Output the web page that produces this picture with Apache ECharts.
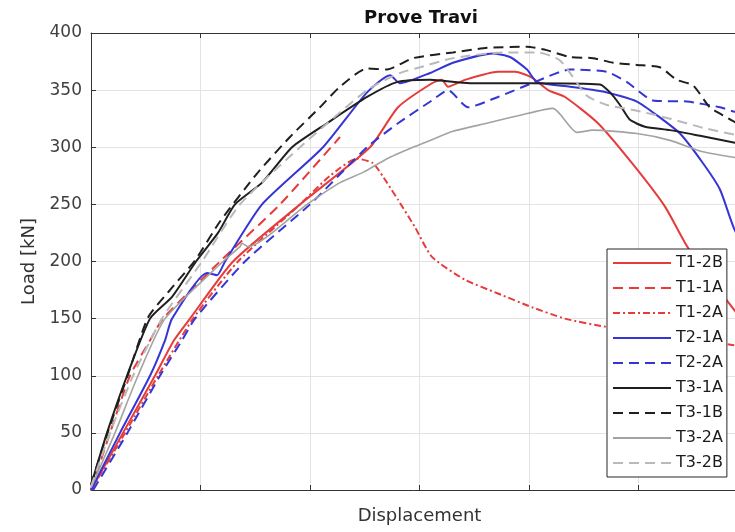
<!DOCTYPE html>
<html>
<head>
<meta charset="utf-8">
<style>
  html, body { margin: 0; padding: 0; background: #fff; }
  #chart { width: 735px; height: 532px; }
</style>
<script src="https://cdn.jsdelivr.net/npm/echarts@6/dist/echarts.min.js"></script>
</head>
<body>
<div id="chart"></div>
<script>
// displacement (arbitrary units, grid every 10) vs load [kN]
var t1_2B = [[0,0],[2.92,50],[5.84,100],[7.58,131],[9.04,150],[12.97,200],[19.09,250],[25.48,300],[28.04,335],[31.14,356],[32.05,359],[32.6,353],[34.16,359],[37.17,366],[38.72,366],[40.27,361],[41.74,350],[43.29,344],[46.3,321],[49.41,286],[52.42,248],[54.52,212],[58.54,160],[60,143]];
var t1_1A = [[0,0],[1.74,50],[3.56,100],[5.39,131],[6.58,150],[11.78,200],[17.26,250],[22.74,309]];
var t1_2A = [[0,0],[3.11,50],[6.12,100],[9.32,150],[13.42,200],[19.09,250],[21.83,275],[24.29,290],[25.75,286],[27.03,269],[28.04,254],[29.59,230],[31.14,204],[34.16,184],[37.17,172],[40.27,160],[43.29,150],[46.94,143],[58.54,127],[60,125]];
var t2_1A = [[0,0],[2.65,50],[5.39,100],[6.76,131],[7.4,150],[10.59,190],[11.51,188],[12.24,200],[15.62,250],[21.19,300],[25.21,348],[27.31,363],[28.22,356],[30.96,365],[33.06,374],[36.71,382],[38.26,379],[39.82,368],[40.73,357],[43.74,353],[47.12,348],[49.86,340],[51.96,326],[53.79,312],[55.89,286],[57.44,263],[58.81,227],[60,212]];
var t2_2A = [[0.2,0],[3.33,50],[6.3,100],[8.31,131],[9.5,150],[14.06,200],[20,250],[25.21,300],[28.04,321],[31.14,341],[32.6,350],[34.43,335],[37.17,344],[40.27,356],[43.74,368],[47.12,366],[48.95,357],[51.32,341],[54.43,340],[57.44,335],[58.81,331],[60,330]];
var t3_1A = [[0,4],[1.46,50],[3.29,100],[5.39,150],[7.4,169],[9.59,200],[11.6,225],[13.15,250],[15.62,269],[18.36,300],[21.55,321],[25.21,344],[27.95,357],[30.96,359],[34.6,356],[40.1,356],[46.48,355],[47.4,348],[48.31,337],[49.22,324],[50.59,318],[52.88,315],[55.62,310],[58.81,304],[60,302]];
var t3_1B = [[0,5],[1.55,51],[3.38,101],[5.21,151],[7.21,175],[9.5,201],[11.78,235],[15.16,277],[18.17,309],[20.91,335],[22.74,353],[25.21,369],[27.03,368],[29.4,378],[33.06,383],[36.16,387],[39.82,388],[41.6,385],[43.74,379],[45.84,378],[47.67,374],[49.86,372],[51.96,370],[53.5,359],[55,354],[56.5,335],[58.08,326],[58.81,322],[60,318]];
var t3_2A = [[0,2],[2.19,50],[4.29,100],[6.76,150],[12.05,200],[13.61,213],[13.79,216],[14.34,213],[19.73,250],[22.74,269],[24.84,278],[27.03,290],[29.4,300],[30.96,306],[33.06,314],[36.16,321],[39.18,328],[42.19,334],[44.38,313],[45.84,315],[49.86,312],[52.88,306],[55.89,296],[58.81,291],[60,289]];
var t3_2B = [[0,3],[1.74,50],[3.84,100],[6.48,150],[10.14,200],[13.61,250],[19.09,300],[25.21,350],[28.22,365],[30.05,370],[33.06,378],[37.63,383],[40.73,383],[42.83,376],[45.3,345],[47.12,337],[49.86,332],[52.88,325],[55.89,317],[58.81,311],[60,309]];
var yTicks = { min: 0, max: 400, step: 50 };
var xTicks = { min: 0, max: 60, step: 10 };

var red = '#e63b3b', blue = '#3535d6', black = '#1f1f1f', grey = '#a3a3a3', lightGrey = '#b9b9b9';
var dash = [10, 6], dashDot = [7, 3, 2, 3];
var font = 'DejaVu Sans';

function line(name, data, color, type, width) {
  return {
    name: name,
    type: 'line',
    data: data,
    symbol: 'none',
    smooth: 0.2,
    lineStyle: { color: color, width: width, type: type },
    itemStyle: { color: color }
  };
}

var chart = echarts.init(document.getElementById('chart'), null, { renderer: 'canvas' });
chart.setOption({
  animation: false,
  backgroundColor: '#fff',
  title: {
    text: 'Prove Travi',
    left: 416,
    textAlign: 'center',
    top: 4,
    textStyle: { fontFamily: font, fontSize: 18, fontWeight: 'bold', color: '#111' }
  },
  legend: {
    orient: 'vertical',
    left: 607,
    top: 249,
    padding: [6, 4, 6, 5],
    itemWidth: 58,
    itemHeight: 14,
    itemGap: 9,
    borderColor: '#262626',
    borderWidth: 1,
    backgroundColor: '#fff',
    itemStyle: { color: 'rgba(0,0,0,0)', borderColor: 'rgba(0,0,0,0)', borderWidth: 0 },
    textStyle: { fontFamily: font, fontSize: 16, color: '#1a1a1a', lineHeight: 16 },
    data: ['T1-2B', 'T1-1A', 'T1-2A', 'T2-1A', 'T2-2A', 'T3-1A', 'T3-1B', 'T3-2A', 'T3-2B']
  },
  grid: { left: 91, top: 33, bottom: 42, width: 657, outerBoundsMode: 'none' },
  xAxis: [{
    type: 'value',
    min: xTicks.min, max: xTicks.max, interval: xTicks.step,
    name: 'Displacement',
    nameLocation: 'middle',
    nameGap: 17,
    nameTextStyle: { fontFamily: font, fontSize: 18, color: '#333' },
    axisLine: { lineStyle: { color: '#333', width: 1 } },
    axisTick: { inside: true, length: 5, lineStyle: { color: '#333' } },
    axisLabel: { show: false },
    splitLine: { lineStyle: { color: '#e3e3e3' } }
  }, {
    type: 'value',
    position: 'top',
    min: xTicks.min, max: xTicks.max, interval: xTicks.step,
    axisLine: { show: true, lineStyle: { color: '#333', width: 1 } },
    axisTick: { inside: true, length: 5, lineStyle: { color: '#333' } },
    axisLabel: { show: false },
    splitLine: { show: false }
  }],
  yAxis: {
    type: 'value',
    min: yTicks.min, max: yTicks.max, interval: yTicks.step,
    name: 'Load [kN]',
    nameLocation: 'middle',
    nameGap: 52,
    nameTextStyle: { fontFamily: font, fontSize: 18, color: '#333' },
    axisLine: { show: true, lineStyle: { color: '#333', width: 1 } },
    axisTick: { show: true, inside: true, length: 5, lineStyle: { color: '#333' } },
    axisLabel: { fontFamily: font, fontSize: 17, color: '#404040', margin: 9 },
    splitLine: { lineStyle: { color: '#e3e3e3' } }
  },
  series: [
    line('T1-2B', t1_2B, red, 'solid', 2),
    line('T1-1A', t1_1A, red, dash, 2),
    line('T1-2A', t1_2A, red, dashDot, 2),
    line('T2-1A', t2_1A, blue, 'solid', 2),
    line('T2-2A', t2_2A, blue, dash, 2),
    line('T3-1A', t3_1A, black, 'solid', 2),
    line('T3-1B', t3_1B, black, dash, 2),
    line('T3-2A', t3_2A, grey, 'solid', 1.6),
    line('T3-2B', t3_2B, lightGrey, dash, 2)
  ]
});
window.addEventListener('resize', function() { chart.resize(); });
</script>
</body>
</html>
